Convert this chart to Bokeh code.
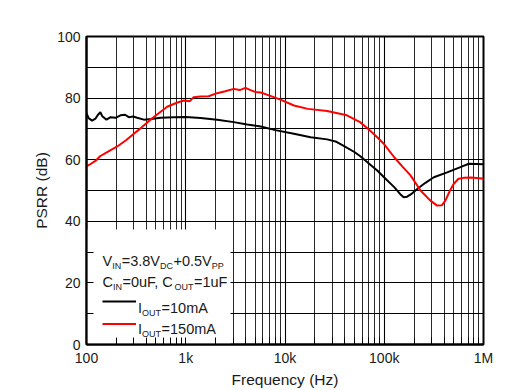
from bokeh.plotting import figure
from bokeh.models import (FixedTicker, Label, BoxAnnotation, Arrow, Range1d)
from bokeh.embed import file_html
from bokeh.resources import INLINE
import math

# ---------------- data ----------------
freq_10mA = [100, 105, 114, 123, 130, 138, 145, 159, 175, 196, 220, 245, 267, 295,
             324, 378, 450, 557, 758, 1000, 1410, 2070, 3050, 4160, 5700, 8000,
             12300, 18100, 26600, 33000, 39000, 50000, 57000, 70000, 85000,
             100000, 126000, 145000, 157000, 170000, 190000, 215000, 260000,
             316000, 430000, 586000, 711000, 850000, 1000000]
psrr_10mA = [75.1, 73.5, 72.7, 73.3, 74.5, 75.4, 74.0, 73.0, 73.8, 73.6, 74.4, 74.6,
             73.8, 74.0, 73.6, 73.0, 73.2, 73.6, 73.8, 73.9, 73.5, 73.0, 72.2, 71.4,
             70.8, 69.6, 68.4, 67.3, 66.6, 65.8, 64.5, 62.5, 61.2, 58.8, 56.5,
             54.2, 51.1, 48.8, 47.8, 48.0, 49.0, 50.5, 52.5, 54.3, 55.9, 57.6,
             58.7, 58.6, 58.5]

freq_150mA = [100, 110, 125, 138, 160, 204, 250, 300, 360, 442, 530, 650, 800, 955,
              1100, 1200, 1410, 1700, 2070, 2500, 3050, 3500, 4000, 4500, 5000, 5700,
              7000, 9000, 12300, 17000, 26600, 42000, 57000, 70000, 85000, 100000,
              126000, 155000, 184000, 232000, 290000, 341000, 380000, 414000,
              460000, 500000, 560000, 630000, 750000, 960000, 1000000]
psrr_150mA = [57.8, 58.6, 59.8, 61.2, 62.4, 64.3, 66.3, 68.4, 70.5, 73.0, 75.0, 77.2,
              78.4, 79.2, 79.0, 80.3, 80.5, 80.6, 81.6, 82.2, 83.0, 82.6, 83.3, 82.6,
              82.0, 81.8, 80.8, 79.5, 77.6, 76.5, 75.8, 74.4, 72.2, 69.8, 67.3, 65.0,
              60.8, 57.5, 54.9, 50.0, 46.8, 45.1, 45.2, 46.8, 50.0, 52.1, 53.8, 54.1,
              54.2, 53.9, 53.8]

x_ticks = [100, 1000, 10000, 100000, 1000000]
x_tick_labels = ["100", "1k", "10k", "100k", "1M"]
y_ticks = [0, 20, 40, 60, 80, 100]

# legend rows: list of (text, is_subscript)
legend_rows = [
    [("V", 0), ("IN", 1), ("=3.8V", 0), ("DC", 1), ("+0.5V", 0), ("PP", 1)],
    [("C", 0), ("IN", 1), ("=0uF, C", 0), ("OUT", 1), ("=1uF", 0)],
    [("I", 0), ("OUT", 1), ("=10mA", 0)],
    [("I", 0), ("OUT", 1), ("=150mA", 0)],
]
legend_colors = ["black", "#ff0000"]

FONT = "Liberation Sans"
TXT = "#1a1a1a"

# ---------------- layout (page px == figure px) ----------------
W, H = 521, 390
FL, FT, FW, FH = 86, 36, 397, 308   # frame left/top/width/height
XMIN, XMAX, YMIN, YMAX = 100, 1e6, 0, 100

def px_x(px):
    fx = px - FL
    return 10 ** (math.log10(XMIN) + fx / FW * (math.log10(XMAX) - math.log10(XMIN)))

def px_y(py):
    fy = py - FT
    return YMAX - fy / FH * (YMAX - YMIN)

ADV = {" ": 278, ",": 278, ".": 278, "+": 584, "=": 584, "A": 667, "C": 722,
       "D": 722, "F": 611, "I": 278, "N": 722, "O": 778, "P": 667, "T": 611,
       "U": 722, "V": 667, "m": 833, "u": 556}
def text_w(t, size):
    return sum(ADV.get(c, 556) for c in t) / 1000.0 * size

p = figure(width=W, height=H, x_axis_type="log",
           x_range=Range1d(XMIN, XMAX), y_range=Range1d(YMIN, YMAX),
           output_backend="svg", toolbar_location=None)
p.min_border = 0
p.min_border_left = FL
p.min_border_top = FT
p.min_border_right = W - FL - FW
p.min_border_bottom = H - FT - FH
p.background_fill_color = "white"
p.border_fill_color = "white"
p.outline_line_color = "black"
p.outline_line_width = 2

minor_x = [m * d for d in [100, 1000, 10000, 100000] for m in range(2, 10)]
p.xaxis.ticker = FixedTicker(ticks=x_ticks, minor_ticks=minor_x)
p.yaxis.ticker = FixedTicker(ticks=y_ticks, minor_ticks=[10, 30, 50, 70, 90])
p.xaxis.major_label_overrides = {t: l for t, l in zip(x_ticks, x_tick_labels)}

for ax in (p.xaxis, p.yaxis):
    ax.major_tick_in = 7
    ax.major_tick_out = 0
    ax.minor_tick_in = 7
    ax.minor_tick_out = 0
    ax.major_tick_line_color = "black"
    ax.minor_tick_line_color = "black"
    ax.axis_line_color = "black"
    ax.axis_line_width = 2
    ax.major_label_text_font = FONT
    ax.major_label_text_font_size = "14px"
    ax.major_label_text_color = TXT
    ax.axis_label_text_font = FONT
    ax.axis_label_text_font_size = "15.5px"
    ax.axis_label_text_font_style = "normal"
    ax.axis_label_text_color = TXT

p.xaxis.axis_label = "Frequency (Hz)"
p.yaxis.axis_label = "PSRR (dB)"
p.xaxis.major_label_standoff = 5
p.xaxis.axis_label_standoff = 2
p.yaxis.major_label_standoff = 6
p.yaxis.axis_label_standoff = 4

for g in (p.xgrid, p.ygrid):
    g.grid_line_color = "#000000"
    g.grid_line_width = 1.1
    g.grid_line_alpha = 1
    g.minor_grid_line_color = "#2a2a2a"
    g.minor_grid_line_width = 1
p.ygrid.minor_grid_line_color = "#000000"
p.ygrid.minor_grid_line_width = 1.1

# legend background (covers grid, under axes ticks)
box = BoxAnnotation(left=px_x(87), right=px_x(230), bottom=px_y(343), top=px_y(229),
                    fill_color="white", fill_alpha=1, line_alpha=0, level="glyph")
p.add_layout(box)

p.line(freq_10mA, psrr_10mA, line_color="black", line_width=2)
p.line(freq_150mA, psrr_150mA, line_color="#ff0000", line_width=2)

# legend text with subscripts, laid out fragment by fragment
MAIN, SUB = 14.5, 9
row_start = [(102, 260.5), (102, 281.5), (137.5, 307), (137.5, 328.5)]
for row, (x0, base) in zip(legend_rows, row_start):
    x = x0
    for t, sub in row:
        size = SUB if sub else MAIN
        y = base + (5 if sub else 0)
        p.add_layout(Label(x=px_x(x), y=px_y(y), text=t, text_font=FONT,
                           text_font_size=f"{size}px", text_color=TXT,
                           text_baseline="alphabetic", text_align="left"))
        x += text_w(t, size) + (0.5 if sub else 0)

for col, yy in zip(legend_colors, (301, 323.5)):
    p.add_layout(Arrow(start=None, end=None, x_start=px_x(102), y_start=px_y(yy),
                       x_end=px_x(135.5), y_end=px_y(yy), line_color=col, line_width=2))

open("out.html", "w").write(file_html(p, INLINE))
